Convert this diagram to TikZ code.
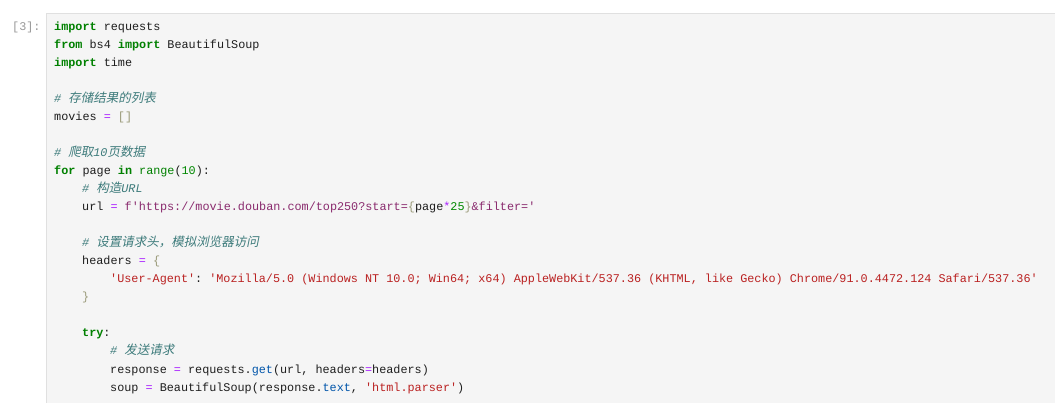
\documentclass[tikz,border=0pt]{standalone}
\usepackage{fontspec}
\setmonofont[Ligatures={}]{Liberation Mono}
\newfontfamily\cjk[FakeSlant=0.2]{Noto Sans CJK SC}
\definecolor{kwc}{HTML}{008000}
\definecolor{cmc}{HTML}{3D7B7B}
\definecolor{opc}{HTML}{AA22FF}
\definecolor{brc}{HTML}{999977}
\definecolor{nmc}{HTML}{008800}
\definecolor{stc}{HTML}{BA2121}
\definecolor{fsc}{HTML}{8A2B6E}
\definecolor{atc}{HTML}{0055AA}
\definecolor{txc}{HTML}{1E1E1E}
\newcommand\ckw[1]{\textcolor{kwc}{\bfseries #1}}
\newcommand\ccm[1]{\textcolor{cmc}{\itshape #1}}
\newcommand\ccj[1]{{\cjk\fontsize{12.5}{14}\selectfont #1}}
\newcommand\cop[1]{\textcolor{opc}{#1}}
\newcommand\cbr[1]{\textcolor{brc}{#1}}
\newcommand\cnm[1]{\textcolor{nmc}{#1}}
\newcommand\cst[1]{\textcolor{stc}{#1}}
\newcommand\cfs[1]{\textcolor{fsc}{#1}}
\newcommand\cat[1]{\textcolor{atc}{#1}}
\newcommand\qq{\char39 }
\begin{document}
\begin{tikzpicture}[x=1pt,y=-1pt,
  code/.style={anchor=base west,inner sep=0pt,font=\ttfamily\fontsize{11.8}{14}\selectfont,text=txc}]
\useasboundingbox (0,0) rectangle (1055,403);
\fill[white] (0,0) rectangle (1055,403);
\draw[fill=black!4,draw=black!12] (46.5,13.5) rectangle (1060,410);
\node[code,text=black!40] (p) at (12,31) {[3]:};
\node[code] (l1) at (54,31) {\ckw{import} requests};
\node[code] (l2) at (54,49) {\ckw{from} bs4 \ckw{import} BeautifulSoup};
\node[code] (l3) at (54,67) {\ckw{import} time};
\node[code] (l5) at (54,103) {\ccm{\# \ccj{存储结果的列表}}};
\node[code] (l6) at (54,121) {movies \cop{=} \cbr{[]}};
\node[code] (l8) at (54,157) {\ccm{\# \ccj{爬取}10\ccj{页数据}}};
\node[code] (l9) at (54,175) {\ckw{for} page \ckw{in} \textcolor{kwc}{range}(\cnm{10}):};
\node[code] (l10) at (82,193) {\ccm{\# \ccj{构造}URL}};
\node[code] (l11) at (82,211) {url \cop{=} \cfs{f\qq https://movie.douban.com/top250?start=}\cbr{\{}page\cop{*}\cnm{25}\cbr{\}}\cfs{\&filter=\qq}};
\node[code] (l13) at (82,247) {\ccm{\# \ccj{设置请求头，模拟浏览器访问}}};
\node[code] (l14) at (82,265) {headers \cop{=} \cbr{\{}};
\node[code] (l15) at (110,283) {\cst{\qq User-Agent\qq}: \cst{\qq Mozilla/5.0 (Windows NT 10.0; Win64; x64) AppleWebKit/537.36 (KHTML, like Gecko) Chrome/91.0.4472.124 Safari/537.36\qq}};
\node[code] (l16) at (82,301) {\cbr{\}}};
\node[code] (l18) at (82,337) {\ckw{try}:};
\node[code] (l19) at (110,355) {\ccm{\# \ccj{发送请求}}};
\node[code] (l20) at (110,373) {response \cop{=} requests.\cat{get}(url, headers\cop{=}headers)};
\node[code] (l21) at (110,391) {soup \cop{=} BeautifulSoup(response.\cat{text}, \cst{\qq html.parser\qq})};
\end{tikzpicture}
\end{document}
